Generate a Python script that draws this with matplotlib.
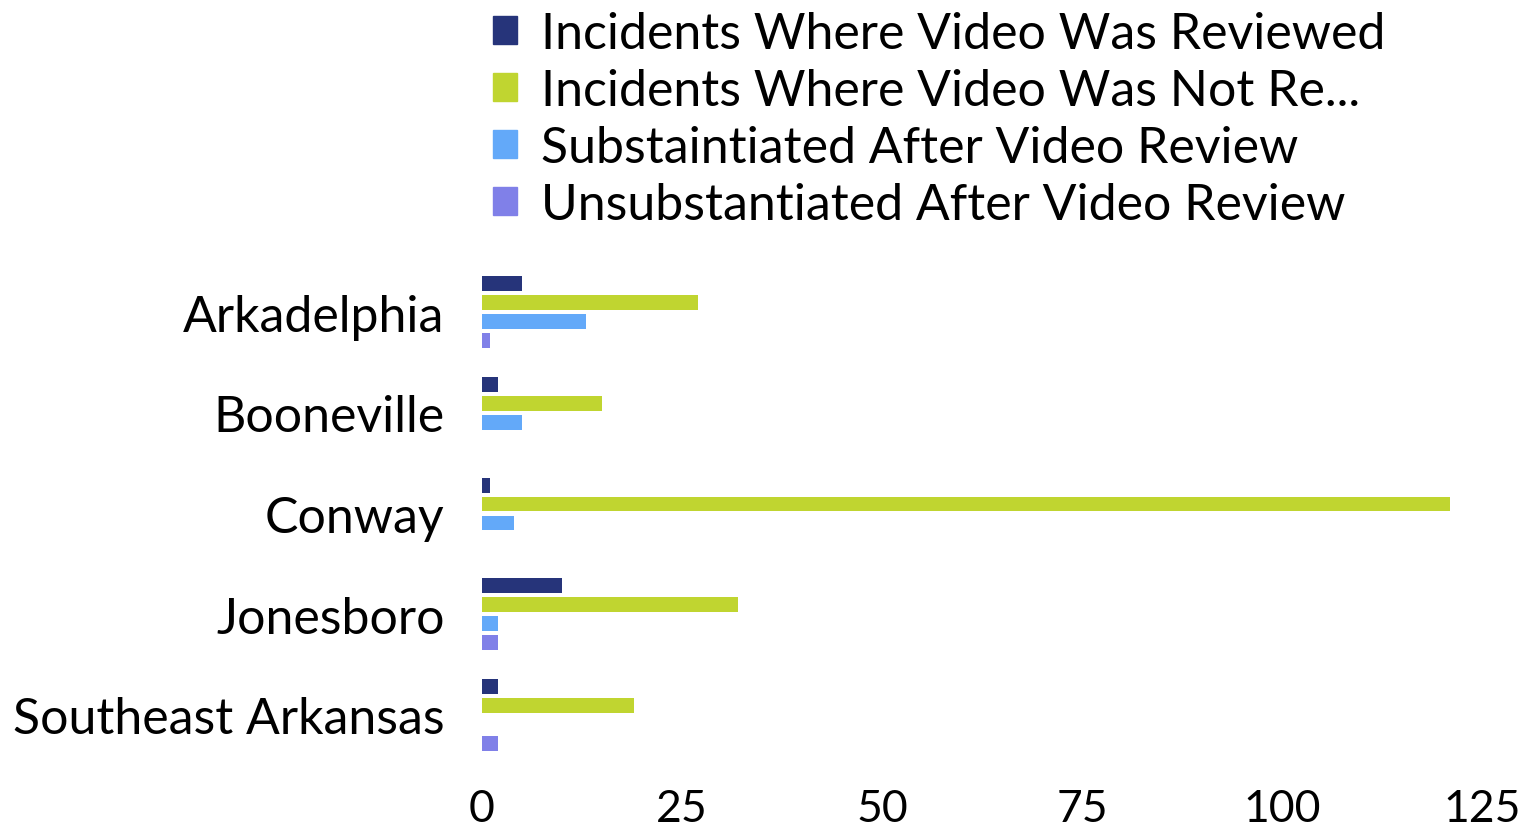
import numpy as np
import matplotlib
matplotlib.use("Agg")
import matplotlib.pyplot as plt
from matplotlib.patches import Patch

plt.rcParams['font.family'] = ['Lato', 'DejaVu Sans']

# data
units = ['Arkadelphia', 'Booneville', 'Conway', 'Jonesboro', 'Southeast Arkansas']
series = ['Incidents Where Video Was Reviewed',
          'Incidents Where Video Was Not Re...',
          'Substaintiated After Video Review',
          'Unsubstantiated After Video Review']
reviewed = [5, 2, 1, 10, 2]
not_reviewed = [27, 15, 121, 32, 19]
substantiated = [13, 5, 4, 2, 0]
unsubstantiated = [1, 0, 0, 2, 2]
xticks = [0, 25, 50, 75, 100, 125]

colors = ['#26347a', '#c0d530', '#63a9f9', '#8080e8']
values = [reviewed, not_reviewed, substantiated, unsubstantiated]

fig = plt.figure(figsize=(15.37, 8.29), dpi=100)
ax = fig.add_axes([482/1537, 57/829, 1000/1537, 515/829])

y = np.arange(len(units))
step = 0.188
for i in range(4):
    ax.barh(y + (i - 1.5)*step, values[i], height=0.148, color=colors[i])

ax.set_xlim(0, 125)
ax.set_ylim(4.556, -0.556)
ax.set_yticks(y)
ax.set_yticklabels(units, fontsize=36)
ax.set_xticks(xticks)
ax.set_xticklabels([str(t) for t in xticks], fontsize=32)
ax.tick_params(axis='y', length=0, pad=27)
ax.tick_params(axis='x', length=0, pad=12)
for s in ax.spines.values():
    s.set_visible(False)

handles = [Patch(color=c) for c in colors]
fig.legend(handles, series, loc='upper left', bbox_to_anchor=(473/1537, 1.01),
           frameon=False, fontsize=36, handlelength=0.48, handleheight=0.48,
           handletextpad=0.48, labelspacing=0.22, borderaxespad=0)

fig.savefig('out.png', dpi=100)
